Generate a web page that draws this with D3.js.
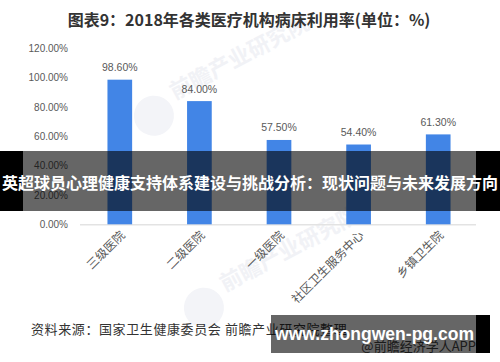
<!DOCTYPE html>
<html><head><meta charset="utf-8">
<script src="https://cdn.jsdelivr.net/npm/d3@7/dist/d3.min.js"></script>
<style>body{margin:0;background:#fff;}svg{display:block;}</style>
</head><body>
<script>
const categories = ["三级医院", "二级医院", "一级医院", "社区卫生服务中心", "乡镇卫生院"];
const values = [98.6, 84.0, 57.5, 54.4, 61.3];
const yTicks = [0, 20, 40, 60, 80, 100, 120];
const title = "图表9：2018年各类医疗机构病床利用率(单位：%)";
const source = "资料来源：国家卫生健康委员会 前瞻产业研究院整理";
const banner = "英超球员心理健康支持体系建设与挑战分析：现状问题与未来发展方向";
const site = "www.zhongwen-pg.com";
const siteSub = "@前瞻经济学人APP";
const watermark = "前瞻产业研究院";

const W = 500, H = 362;
const font = "'Liberation Sans','Noto Sans CJK SC',sans-serif";
const cjk = "'Noto Sans CJK SC','Liberation Sans',sans-serif";
const svg = d3.select("body").append("svg").attr("width", W).attr("height", H);

// faint watermarks
[[175, 100], [225, 292]].forEach(([x, y]) => {
  const g = svg.append("g").attr("transform", `translate(${x},${y}) rotate(-28)`);
  g.append("circle").attr("cx", -26).attr("cy", 4).attr("r", 20).attr("fill", "#f3f4f8");
  g.append("text").attr("x", 0).attr("y", 0).attr("font-family", cjk).attr("font-weight", "bold")
    .attr("font-size", 22).attr("fill", "#f1f2f6").text(watermark);
});

svg.append("text").attr("x", 249).attr("y", 26).attr("text-anchor", "middle")
  .attr("font-family", cjk).attr("font-weight", "bold").attr("font-size", 16).attr("fill", "#333")
  .text(title);

const x = d3.scaleBand().domain(categories).range([80, 478]).paddingInner(0.69).paddingOuter(0.345);
const y = d3.scaleLinear().domain([0, 120]).range([224.3, 48.3]);

const yAxis = svg.append("g").attr("transform", "translate(68,0)")
  .call(d3.axisLeft(y).tickValues(yTicks).tickSize(0).tickPadding(0).tickFormat(d => d.toFixed(2) + "%"));
yAxis.select(".domain").remove();
yAxis.selectAll("text").attr("font-family", font).attr("font-size", 10).attr("fill", "#595959");

svg.append("line").attr("x1", 80).attr("x2", 476).attr("y1", y(0) + 0.5).attr("y2", y(0) + 0.5)
  .attr("stroke", "#e3e3e3").attr("stroke-width", 1.5);

svg.selectAll("rect.bar").data(values).join("rect").attr("class", "bar")
  .attr("x", (d, i) => x(categories[i])).attr("width", x.bandwidth())
  .attr("y", d => y(d)).attr("height", d => y(0) - y(d)).attr("fill", "#4285e6");

svg.selectAll("text.val").data(values).join("text").attr("class", "val")
  .attr("x", (d, i) => x(categories[i]) + x.bandwidth() / 2).attr("y", d => y(d) - 8.5)
  .attr("text-anchor", "middle").attr("font-family", font).attr("font-size", 10.5).attr("fill", "#595959")
  .text(d => d.toFixed(2) + "%");

svg.selectAll("text.cat").data(categories).join("text").attr("class", "cat")
  .attr("transform", d => `translate(${x(d) + x.bandwidth() / 2 + 6},${236}) rotate(-45)`)
  .attr("text-anchor", "end").attr("font-family", cjk).attr("font-size", 12).attr("fill", "#595959")
  .text(d => d);

svg.append("text").attr("x", 31).attr("y", 334).attr("font-family", cjk).attr("font-size", 13)
  .attr("letter-spacing", 0.6).attr("fill", "#333").text(source);

// banner overlay
svg.append("rect").attr("x", 0).attr("y", 151).attr("width", 23).attr("height", 60).attr("fill", "#000");
svg.append("rect").attr("x", 476).attr("y", 151).attr("width", 24).attr("height", 60).attr("fill", "#000");
svg.append("rect").attr("x", 23).attr("y", 151).attr("width", 453).attr("height", 60).attr("fill", "#000").attr("opacity", 0.6);
svg.append("text").attr("x", 250).attr("y", 189).attr("text-anchor", "middle")
  .attr("font-family", cjk).attr("font-weight", "bold").attr("font-size", 16).attr("fill", "#fff")
  .text(banner);

// site overlay
svg.append("text").attr("x", 476).attr("y", 351).attr("text-anchor", "end").attr("font-family", cjk)
  .attr("font-size", 13).attr("fill", "#444").text(siteSub);
svg.append("rect").attr("x", 271).attr("y", 315).attr("width", 205).attr("height", 38).attr("fill", "#000").attr("opacity", 0.6);
svg.append("rect").attr("x", 476).attr("y", 315).attr("width", 14).attr("height", 38).attr("fill", "#000");
svg.append("text").attr("x", 275).attr("y", 340).attr("font-family", font)
  .attr("font-weight", "bold").attr("font-size", 19).attr("textLength", 199).attr("lengthAdjust", "spacingAndGlyphs")
  .attr("fill", "#fff").text(site);
</script>
</body></html>
